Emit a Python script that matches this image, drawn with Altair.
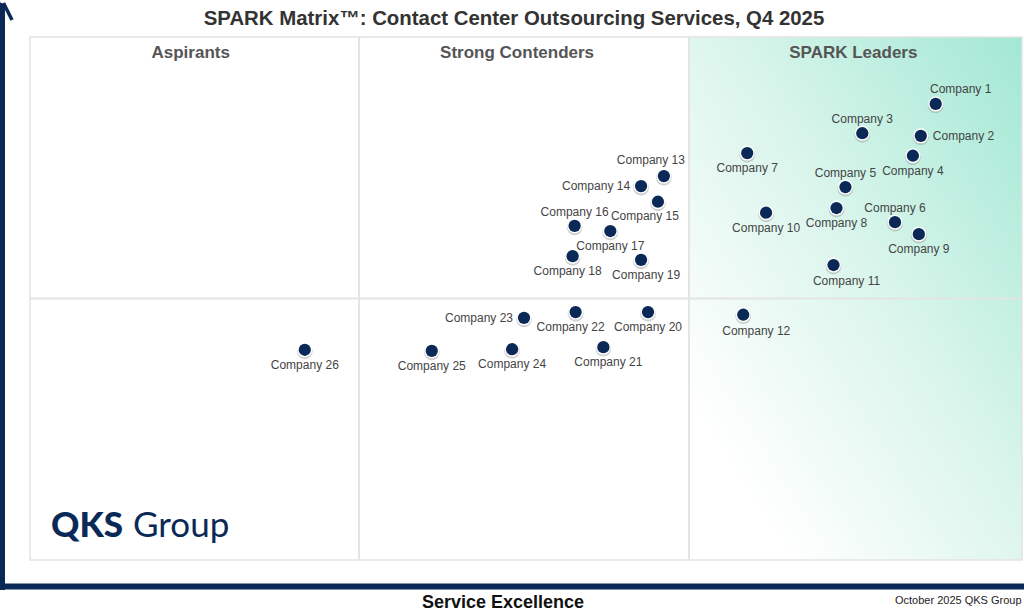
import altair as alt
import pandas as pd

# ---- data -------------------------------------------------------------
companies = [
    "Company 1", "Company 2", "Company 3", "Company 4", "Company 5",
    "Company 6", "Company 7", "Company 8", "Company 9", "Company 10",
    "Company 11", "Company 12", "Company 13", "Company 14", "Company 15",
    "Company 16", "Company 17", "Company 18", "Company 19", "Company 20",
    "Company 21", "Company 22", "Company 23", "Company 24", "Company 25",
    "Company 26",
]
# Service Excellence (horizontal) and Technology Excellence (vertical), 0-100
service_excellence = [
    91.3, 89.8, 83.9, 89.0, 82.2, 87.2, 72.3, 81.3, 89.6, 74.2,
    81.0, 71.9, 63.9, 61.6, 63.3, 54.9, 58.5, 54.7, 61.6, 62.3,
    57.8, 55.0, 49.8, 48.6, 40.5, 27.7,
]
technology_excellence = [
    87.2, 81.1, 81.6, 77.3, 71.3, 64.6, 77.8, 67.3, 62.3, 66.4,
    56.4, 46.9, 73.4, 71.5, 68.5, 63.9, 62.9, 58.1, 57.4, 47.4,
    40.7, 47.4, 46.3, 40.3, 40.0, 40.2,
]
# where each company's label sits relative to its dot
label_side = [
    "NE", "E", "N", "S", "N", "N", "S", "S", "S", "S",
    "SE", "SE", "NW", "W", "SW", "N", "S", "S-", "S+", "S",
    "S+", "S-", "W", "S", "S", "S",
]

quadrant_names = ["Aspirants", "Strong Contenders", "SPARK Leaders"]
quadrant_centers = [16.2, 49.1, 83.0]
column_breaks = [33.17, 66.43]
row_break = 50

title_text = "SPARK Matrix\u2122: Contact Center Outsourcing Services, Q4 2025"
x_title = "Service Excellence"
footer_text = "October 2025 QKS Group"

# ---- frames -----------------------------------------------------------
df = pd.DataFrame({
    "company": companies,
    "service": service_excellence,
    "technology": technology_excellence,
    "side": label_side,
})
quad_df = pd.DataFrame({"name": quadrant_names, "xc": quadrant_centers})
leader_box = pd.DataFrame({"x0": [column_breaks[1]], "x1": [100], "y0": [0], "y1": [100]})
full_box = pd.DataFrame({"x0": [0], "x1": [100], "y0": [0], "y1": [100]})

W, H = 992, 523
NAVY = "#0b2957"
GRID = "#e4e4e4"
FONT = "Liberation Sans"

xs = alt.Scale(domain=[0, 100])
ys = alt.Scale(domain=[0, 100])

one = pd.DataFrame({"k": [0]})

box_enc = dict(
    x=alt.X("x0:Q", scale=xs, axis=None), x2="x1:Q",
    y=alt.Y("y0:Q", scale=ys, axis=None), y2="y1:Q",
)

# leaders quadrant gradient: white at lower left, mint at upper right
leader_gradient = {
    "gradient": "linear",
    "x1": 0, "y1": 1, "x2": 1, "y2": 0,
    "stops": [
        {"offset": 0, "color": "#ffffff"},
        {"offset": 0.15, "color": "#ffffff"},
        {"offset": 0.55, "color": "#daf5ec"},
        {"offset": 1, "color": "#a2e8d3"},
    ],
}
leaders_bg = alt.Chart(leader_box).mark_rect(color=leader_gradient).encode(**box_enc)

frame = alt.Chart(full_box).mark_rect(
    fillOpacity=0, stroke=GRID, strokeWidth=1.5
).encode(**box_enc)

vlines = alt.Chart(pd.DataFrame({"b": column_breaks})).mark_rule(
    color=GRID, strokeWidth=2
).encode(x=alt.X("b:Q", scale=xs, axis=None))

hline = alt.Chart(pd.DataFrame({"b": [row_break]})).mark_rule(
    color=GRID, strokeWidth=2
).encode(y=alt.Y("b:Q", scale=ys, axis=None))

quad_titles = alt.Chart(quad_df).mark_text(
    font=FONT, fontSize=17, fontWeight="bold", color="#555555", baseline="middle"
).encode(
    x=alt.X("xc:Q", scale=xs, axis=None),
    y=alt.value(16),
    text="name:N",
)

enc = dict(
    x=alt.X("service:Q", scale=xs, axis=None),
    y=alt.Y("technology:Q", scale=ys, axis=None),
)
base = alt.Chart(df)

dot_shadow = base.mark_circle(
    size=250, color="#9a9a9a", opacity=0.45, yOffset=1.5
).encode(**enc)
dot_halo = base.mark_circle(size=225, color="#ffffff", opacity=1).encode(**enc)
dots = base.mark_circle(size=150, color=NAVY, opacity=1).encode(**enc)

placements = {
    "N": dict(dx=0, dy=-14, align="center"),
    "S": dict(dx=0, dy=15, align="center"),
    "S-": dict(dx=-5, dy=15, align="center"),
    "S+": dict(dx=5, dy=15, align="center"),
    "E": dict(dx=12, dy=0, align="left"),
    "W": dict(dx=-11, dy=0, align="right"),
    "NE": dict(dx=25, dy=-15, align="center"),
    "NW": dict(dx=-13, dy=-16, align="center"),
    "SE": dict(dx=13, dy=16, align="center"),
    "SW": dict(dx=-13, dy=14, align="center"),
}
label_layers = [
    base.transform_filter(alt.datum.side == side).mark_text(
        font=FONT, fontSize=12, color="#444444", baseline="middle", **opts
    ).encode(text="company:N", **enc)
    for side, opts in placements.items()
]

# ---- surrounding text and axis arrows ---------------------------------
title = alt.Chart(pd.DataFrame({"t": [title_text]})).mark_text(
    font=FONT, fontSize=20.4, fontWeight="bold", color="#333333", baseline="middle"
).encode(text="t:N", x=alt.value(484), y=alt.value(-18.5))

xlabel = alt.Chart(pd.DataFrame({"t": [x_title]})).mark_text(
    font=FONT, fontSize=18, fontWeight="bold", color="#111111", baseline="middle"
).encode(text="t:N", x=alt.value(473), y=alt.value(565.5))

footer = alt.Chart(pd.DataFrame({"t": [footer_text]})).mark_text(
    font=FONT, fontSize=11, color="#222222", baseline="middle", align="left"
).encode(text="t:N", x=alt.value(865), y=alt.value(564))

logo_qks = alt.Chart(pd.DataFrame({"t": ["QKS"]})).mark_text(
    font="Lato", fontSize=35, fontWeight=900, color=NAVY,
    baseline="alphabetic", align="left"
).encode(text="t:N", x=alt.value(21), y=alt.value(500))

logo_group = alt.Chart(pd.DataFrame({"t": ["Group"]})).mark_text(
    font="Lato", fontSize=35, fontWeight="normal", color=NAVY,
    baseline="alphabetic", align="left"
).encode(text="t:N", x=alt.value(103), y=alt.value(500))

y_arrow = alt.Chart(one).mark_rule(color=NAVY, strokeWidth=5).encode(
    x=alt.value(-27.5), y=alt.value(-33), y2=alt.value(553)
)
x_arrow = alt.Chart(one).mark_rule(color=NAVY, strokeWidth=6).encode(
    x=alt.value(-30), x2=alt.value(1000), y=alt.value(549.5)
)
head_r = alt.Chart(one).mark_rule(color=NAVY, strokeWidth=3.5).encode(
    x=alt.value(-26.5), y=alt.value(-34), x2=alt.value(-18), y2=alt.value(-17)
)
head_l = alt.Chart(one).mark_rule(color=NAVY, strokeWidth=3.5).encode(
    x=alt.value(-28.5), y=alt.value(-34), x2=alt.value(-37), y2=alt.value(-17)
)

chart = alt.layer(
    leaders_bg, frame, vlines, hline, quad_titles,
    dot_shadow, dot_halo, dots, *label_layers,
    title, xlabel, footer, logo_qks, logo_group,
    y_arrow, x_arrow, head_r, head_l,
).properties(
    width=W, height=H,
    autosize=alt.AutoSizeParams(type="none"),
    padding={"left": 30, "top": 37, "right": 2, "bottom": 55},
    background="#ffffff",
).configure_view(stroke=None)

chart.save("out.html", embed_options={"renderer": "svg", "actions": False})
